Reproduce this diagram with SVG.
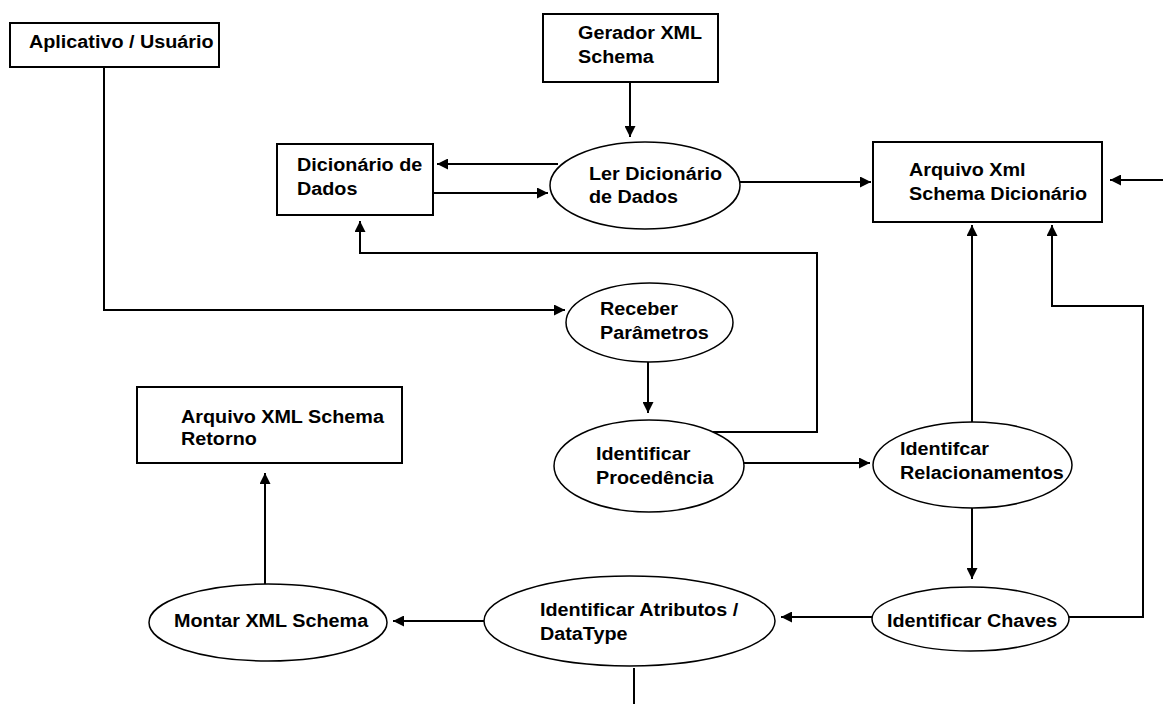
<svg xmlns="http://www.w3.org/2000/svg" width="1163" height="704" viewBox="0 0 1163 704">
  <style>
    .box { fill: #fff; stroke: #000; stroke-width: 2; }
    .proc { fill: #fff; stroke: #000; stroke-width: 1.5; }
    .lbl { font-family: "Liberation Sans", Arial, sans-serif; font-weight: bold; font-size: 18.5px; fill: #000; }
    .wire { fill: none; stroke: #000; stroke-width: 2; }
    .arr { marker-end: url(#head); }
  </style>
  <defs>
    <marker id="head" markerUnits="userSpaceOnUse" markerWidth="11" markerHeight="11" refX="11" refY="5.5" orient="auto">
      <path d="M0,0 L11,5.5 L0,11 z" fill="#000"/>
    </marker>
  </defs>
  <rect width="1163" height="704" fill="#fff"/>

  <!-- data flows -->
  <g id="connectors">
    <polyline class="wire arr" points="104,67 104,310 565,310"/>
    <line class="wire arr" x1="630" y1="82" x2="630" y2="137"/>
    <line class="wire arr" x1="558" y1="164" x2="437" y2="164"/>
    <line class="wire arr" x1="433" y1="193" x2="548" y2="193"/>
    <line class="wire arr" x1="740" y1="182" x2="871" y2="182"/>
    <line class="wire arr" x1="1163" y1="180" x2="1110" y2="180"/>
    <line class="wire arr" x1="648" y1="362" x2="648" y2="413"/>
    <polyline class="wire arr" points="713,432 817,432 817,253 360,253 360,221"/>
    <line class="wire arr" x1="743" y1="463" x2="870" y2="463"/>
    <line class="wire arr" x1="972" y1="422" x2="972" y2="225"/>
    <polyline class="wire arr" points="1069,617 1143,617 1143,306 1052,306 1052,225"/>
    <line class="wire arr" x1="972" y1="508" x2="972" y2="579"/>
    <line class="wire arr" x1="872" y1="617" x2="781" y2="617"/>
    <line class="wire arr" x1="484" y1="621" x2="393" y2="621"/>
    <line class="wire arr" x1="265" y1="584" x2="265" y2="473"/>
    <line class="wire" x1="634" y1="668" x2="634" y2="704"/>
  </g>

  <!-- labels use a slightly widened bold sans -->
  <g id="aplicativo">
    <rect class="box" x="10" y="23" width="209" height="44"/>
    <text class="lbl" transform="translate(29,48) scale(1.07,1)">Aplicativo / Usuário</text>
  </g>
  <g id="gerador">
    <rect class="box" x="543" y="14" width="175" height="68"/>
    <text class="lbl" transform="translate(578,39) scale(1.07,1)">Gerador XML</text>
    <text class="lbl" transform="translate(578,63) scale(1.07,1)">Schema</text>
  </g>
  <g id="dicionario">
    <rect class="box" x="277" y="144" width="156" height="71"/>
    <text class="lbl" transform="translate(297,171) scale(1.07,1)">Dicionário de</text>
    <text class="lbl" transform="translate(297,195) scale(1.07,1)">Dados</text>
  </g>
  <g id="ler-dicionario">
    <ellipse class="proc" cx="645" cy="185.5" rx="95" ry="43.5"/>
    <text class="lbl" transform="translate(589,180) scale(1.07,1)">Ler Dicionário</text>
    <text class="lbl" transform="translate(589,203) scale(1.07,1)">de Dados</text>
  </g>
  <g id="arquivo-xml-dicionario">
    <rect class="box" x="873" y="142" width="229" height="80"/>
    <text class="lbl" transform="translate(909,176) scale(1.07,1)">Arquivo Xml</text>
    <text class="lbl" transform="translate(909,200) scale(1.07,1)">Schema Dicionário</text>
  </g>
  <g id="receber-parametros">
    <ellipse class="proc" cx="649.5" cy="322.5" rx="83.5" ry="39.5"/>
    <text class="lbl" transform="translate(600,315) scale(1.07,1)">Receber</text>
    <text class="lbl" transform="translate(600,339) scale(1.07,1)">Parâmetros</text>
  </g>
  <g id="identificar-procedencia">
    <ellipse class="proc" cx="649" cy="466" rx="95" ry="46"/>
    <text class="lbl" transform="translate(596,460) scale(1.07,1)">Identificar</text>
    <text class="lbl" transform="translate(596,484) scale(1.07,1)">Procedência</text>
  </g>
  <g id="identificar-relacionamentos">
    <ellipse class="proc" cx="972.5" cy="465" rx="99.5" ry="43"/>
    <text class="lbl" transform="translate(900,455) scale(1.07,1)">Identifcar</text>
    <text class="lbl" transform="translate(900,479) scale(1.07,1)">Relacionamentos</text>
  </g>
  <g id="arquivo-xml-retorno">
    <rect class="box" x="137" y="387" width="265" height="76"/>
    <text class="lbl" transform="translate(181,423) scale(1.07,1)">Arquivo XML Schema</text>
    <text class="lbl" transform="translate(181,445) scale(1.07,1)">Retorno</text>
  </g>
  <g id="montar-xml-schema">
    <ellipse class="proc" cx="268" cy="622.5" rx="119" ry="38.5"/>
    <text class="lbl" transform="translate(174,627) scale(1.07,1)">Montar XML Schema</text>
  </g>
  <g id="identificar-atributos">
    <ellipse class="proc" cx="629.5" cy="621" rx="145.5" ry="45"/>
    <text class="lbl" transform="translate(540,616) scale(1.07,1)">Identificar Atributos /</text>
    <text class="lbl" transform="translate(540,640) scale(1.07,1)">DataType</text>
  </g>
  <g id="identificar-chaves">
    <ellipse class="proc" cx="970.5" cy="619" rx="98.5" ry="32"/>
    <text class="lbl" transform="translate(887,627) scale(1.07,1)">Identificar Chaves</text>
  </g>
</svg>
